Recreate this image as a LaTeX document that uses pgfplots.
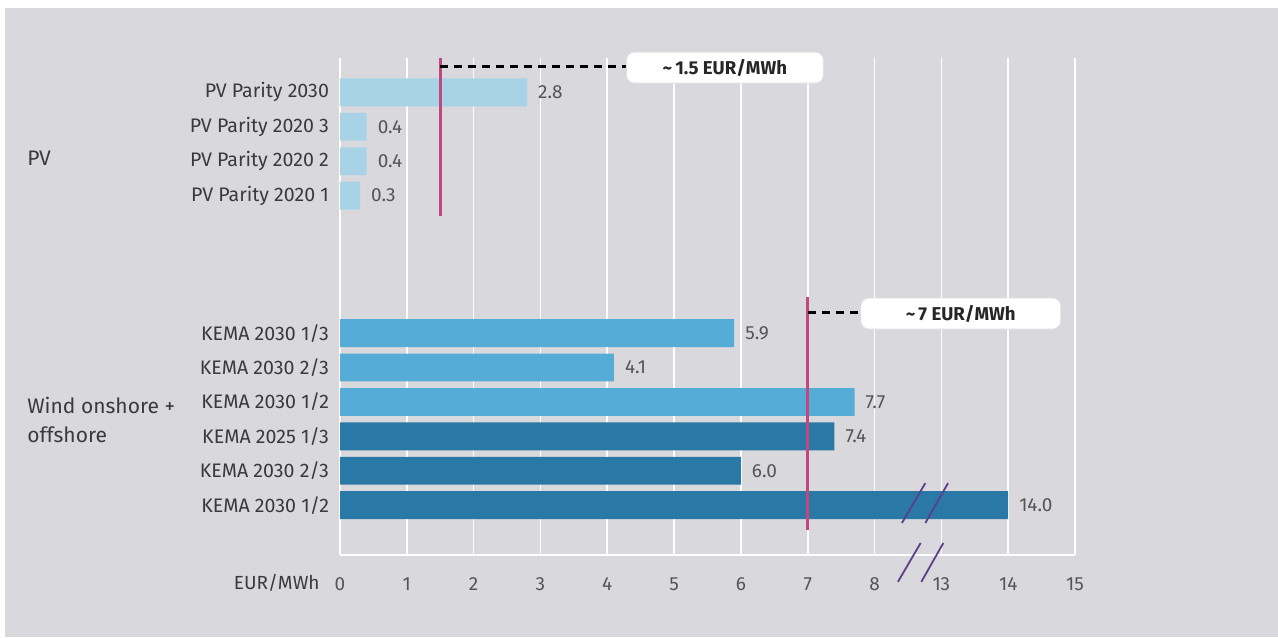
\documentclass[border=0pt]{standalone}
\usepackage{pgfplots}
\pgfplotsset{compat=1.18}
\usepackage{fontspec}
\setmainfont{Fira Sans}
\definecolor{bg}{HTML}{D9D8DC}
\definecolor{pvc}{HTML}{A8D2E6}
\definecolor{klight}{HTML}{55ADD7}
\definecolor{kdark}{HTML}{2A78A5}
\definecolor{mag}{HTML}{C4467E}
\definecolor{brk}{HTML}{5B3F8C}
\definecolor{txt}{HTML}{3A3A3A}
\definecolor{tck}{HTML}{555555}
\begin{document}
\begin{tikzpicture}[font=\fontsize{9.5}{11}\selectfont]
\useasboundingbox (0,0) rectangle (639pt,318.5pt);
\fill[white] (0,0) rectangle (639pt,318.5pt);
\fill[bg] (2.5pt,0) rectangle (639pt,314.5pt);
\begin{axis}[
  at={(170pt,41pt)}, anchor=south west,
  width=367.5pt, height=248.5pt, scale only axis,
  xmin=0, xmax=11, ymin=-1.45, ymax=13,
  axis line style={draw=none},
  xtick={0,...,11},
  xticklabels={0,1,2,3,4,5,6,7,8,13,14,15},
  ytick={0,1,2,3,4,5,9,10,11,12},
  yticklabels={KEMA 2030 1/2,KEMA 2030 2/3,KEMA 2025 1/3,KEMA 2030 1/2,KEMA 2030 2/3,KEMA 2030 1/3,PV Parity 2020 1,PV Parity 2020 2,PV Parity 2020 3,PV Parity 2030},
  major tick length=0pt,
  xmajorgrids, grid style={white, line width=0.8pt},
  /pgf/number format/assume math mode=true,
  xticklabel style={text=tck, yshift=-8pt, font=\fontsize{9.5}{11}\selectfont},
  yticklabel style={text=txt, xshift=-2pt, font=\fontsize{9.8}{11}\selectfont},
  xbar, bar width=0.81, bar shift=0pt,
  point meta=explicit symbolic,
  nodes near coords,
  nodes near coords style={anchor=west, xshift=2pt, text=tck, font=\fontsize{9.5}{11}\selectfont},
  clip=false,
]
\draw[white, line width=0.8pt] (axis cs:0,-1.45) -- (axis cs:11,-1.45);
\addplot[fill=pvc, draw=none] table[meta=lab] {
x y lab
2.8 12 2.8
0.4 11 0.4
0.4 10 0.4
0.3 9 0.3
};
\addplot[fill=klight, draw=none] table[meta=lab] {
x y lab
5.9 5 5.9
4.1 4 4.1
7.7 3 7.7
};
\addplot[fill=kdark, draw=none] table[meta=lab] {
x y lab
7.4 2 7.4
6.0 1 6.0
10 0 14.0
};
% reference lines
\draw[mag, line width=1.3pt] (axis cs:1.5,13) -- (axis cs:1.5,8.4);
\draw[mag, line width=1.3pt] (axis cs:7,6.05) -- (axis cs:7,-0.72);
\draw[black, line width=1.1pt, dash pattern=on 4pt off 3pt] (axis cs:1.5,12.75) -- (axis cs:4.35,12.75);
\draw[black, line width=1.1pt, dash pattern=on 4pt off 3pt] (axis cs:7,5.6) -- (axis cs:7.85,5.6);
\node[fill=white, draw=black!12, rounded corners=4pt, minimum width=98.5pt, minimum height=15.5pt, inner sep=0pt, font=\fontsize{9.3}{11}\selectfont\bfseries, text=black!85] at (axis cs:5.76,12.72) {\textasciitilde\,1.5 EUR/MWh};
\node[fill=white, draw=black!12, rounded corners=4pt, minimum width=100pt, minimum height=15.5pt, inner sep=0pt, font=\fontsize{9.3}{11}\selectfont\bfseries, text=black!85] at (axis cs:9.29,5.57) {\textasciitilde\,7 EUR/MWh};
% break marks
\draw[brk, line width=0.9pt] (axis cs:8.41,-0.52) -- (axis cs:8.76,0.64);
\draw[brk, line width=0.9pt] (axis cs:8.76,-0.52) -- (axis cs:9.10,0.64);
\draw[brk, line width=0.9pt] (axis cs:8.35,-2.23) -- (axis cs:8.69,-1.10);
\draw[brk, line width=0.9pt] (axis cs:8.70,-2.23) -- (axis cs:9.03,-1.10);
\end{axis}
\node[anchor=east, text=txt, inner sep=0pt] at (160pt,27pt) {EUR/MWh};
\node[anchor=west, text=txt, inner sep=0pt, font=\fontsize{10.5}{12}\selectfont] at (13.5pt,239.5pt) {PV};
\node[anchor=west, text=txt, align=left, inner sep=0pt, font=\fontsize{10.5}{14.5}\selectfont] at (13.5pt,108.5pt) {Wind onshore +\\offshore};
\end{tikzpicture}
\end{document}
